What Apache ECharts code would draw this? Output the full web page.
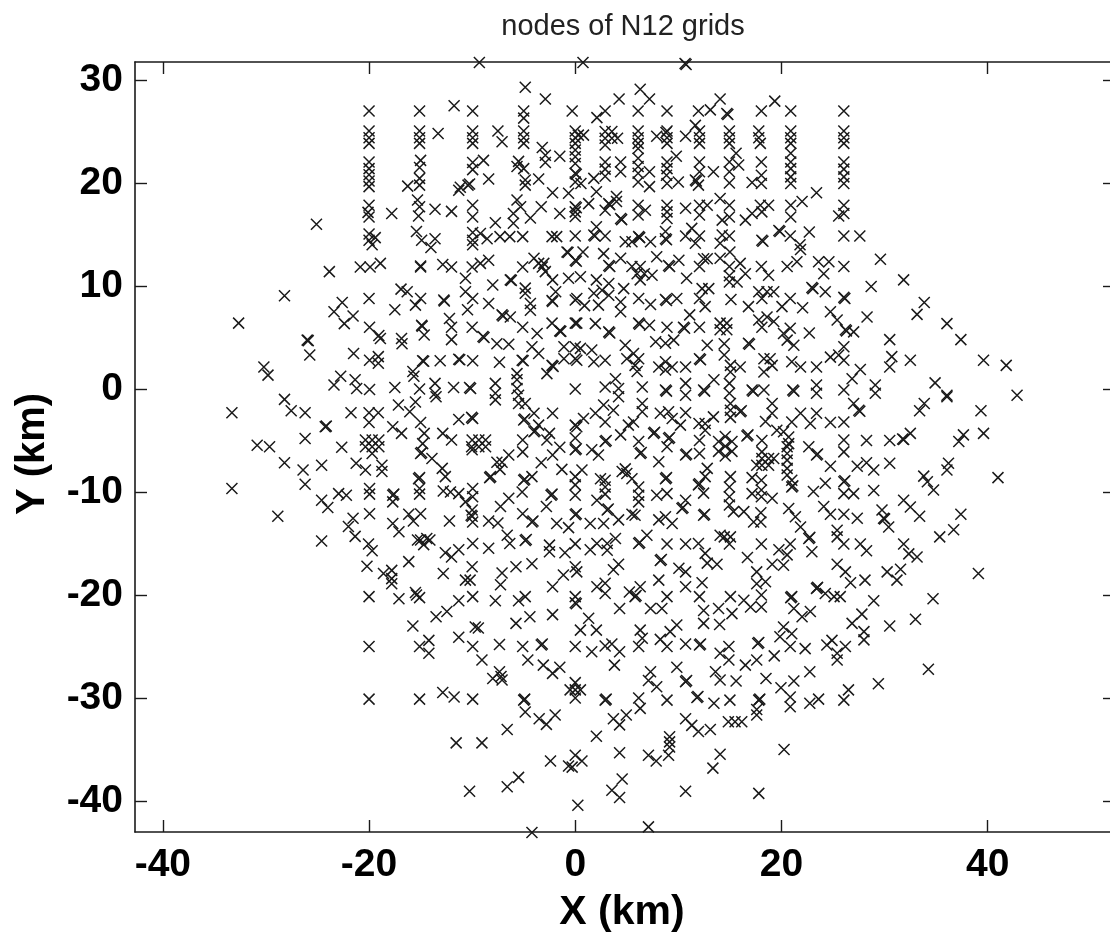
<!DOCTYPE html>
<html><head><meta charset="utf-8">
<style>html,body{margin:0;padding:0;background:#fff;overflow:hidden}#c{width:1110px;height:940px}</style>
<script src="https://cdn.jsdelivr.net/npm/echarts@6/dist/echarts.min.js"></script></head>
<body><div id="c"></div>
<script>
const xTicks=[-40,-20,0,20,40];
const yTicks=[-40,-30,-20,-10,0,10,20,30];
const nodesNW=[[-9.3,31.7],[-4.85,29.3],[-2.9,28.15],[-11.75,27.5],[-20,27],[-15.1,27],[-9.95,27],[-5,27],[-0.3,27],[-5,26.3],
[-20,25.05],[-20,24.4],[-20,23.85],[-15.1,25.05],[-15.1,24.4],[-15.1,23.85],[-9.95,25.05],[-9.95,24.4],[-9.95,23.85],[-5,25.05],[-5,24.4],[-5,23.85],[-13.3,24.8],[-7.5,25.05],[-7.1,24],
[-20,22.05],[-20,21.4],[-20,20.8],[-20,20.2],[-20,19.65],[-15,22.2],[-15.1,21.5],[-15.1,20.45],[-15.1,19.8],[-16.25,19.7],[-9.95,22],[-9.95,21.3],[-8.9,22.2],[-8.4,20.4],[-10.4,19.8],[-10.25,19.9],[-11.15,19.6],[-11.3,19.3],
[-5.5,22.1],[-5.65,21.6],[-5,21.4],[-4.85,20.3],[-4.85,19.8],[-3.55,20.4],[-3.2,23.45],[-2.9,22.7],[-2.9,22],[-1.5,22.6],
[-20,17.85],[-20.1,17.15],[-20,16.7],[-17.8,17.05],[-15.3,18.35],[-15.1,17.7],[-15.2,16.8],[-13.6,17.45],[-12,17.25],[-9.95,17.85],[-9.95,16.7],[-3.3,17.7],[-1.5,17.05],[-5.65,18.35],[-6,17.05],[-5.3,17.7],[-4.35,16.6],[-7.75,16.15],[-6,16.1],[-2.2,19.05],[-0.65,19],[-25.1,16],
[-20,15.05],[-19.4,14.7],[-19.7,14],[-20,14.45],[-15.4,15.3],[-14.9,14.45],[-13.6,14.6],[-14,13.75],[-9.95,15.2],[-9.95,14.45],[-9.95,14],[-9.2,15.1],[-8.55,14.6],[-7.3,14.8],[-6.35,14.8],[-5.1,14.8],[-2.25,14.8],[-1.8,14.8],
[-23.85,11.4],[-20.85,11.85],[-19.9,11.85],[-18.9,12.2],[-15,11.95],[-15,11.85],[-12.85,12.1],[-12,11.85],[-10,11.85],[-9.2,12.2],[-8.4,12.5],[-5.1,11.85],[-4,12.7],[-3.2,11.85],[-2.9,11.4],[-3.55,12.2],[-3.05,12.2],[-2.2,10.6],[-0.8,13.3],[-0.7,13.25],[-0.65,10.75],
[-10.65,10.75],[-10.65,9.45],[-8,10.1],[-6.3,10.6],[-6.2,10.55],[-4.85,9.8],[-4.85,9.3],[-4.35,8.3],[-4.35,7.65],[-28.2,9.05],[-20,8.8],[-16.9,9.7],[-16.3,9.45],[-15,8.8],[-15.5,8.15],[-12.75,8.65],[-12.7,8.55],[-9.95,8.8],[-10.45,7.7],[-8.4,8.3],[-7.1,7.2],[-7,7.1],[-6.3,7],[-5.1,6],[-2.25,8.6],[-2.2,8.5],[-1.9,9.45],
[-22.6,8.4],[-23.4,7.5],[-21.55,7.1],[-22.4,6.35],[-32.65,6.4],[-17.5,7.7],[-12.2,6.85],[-12,6],[-12,4.8],[-14.9,6.2],[-14.85,6.1],[-14.65,5.25],[-19.95,6],[-18.9,4.9],[-19.05,5.2],[-16.8,4.4],[-16.85,4.9],[-26,4.75],[-25.9,4.7],[-25.75,3.3],[-10,6],[-8.95,5.1],[-8.85,5],[-7.6,4.4],[-6.45,4.35],[-3.7,5.4],[-4.2,4.1],[-3.55,3.45],[-1.5,5.65],[-1.4,5.6],[-2.25,6.4],[-1.1,4.1],[-1.1,2.95],
[-21.5,3.45],[-19.95,2.8],[-19.1,2.5],[-19.1,3.15],[-14.8,2.75],[-14.7,2.7],[-13.1,2.75],[-11.3,2.9],[-11.2,2.85],[-9.95,2.75],[-7.35,2.6],[-5.15,2.8],[-5.05,2.75],[-2.25,2.3],[-2.15,2.2],[-5.65,1.5],[-5.65,0.9],
[-30.2,2.15],[-29.8,1.35],[-22.75,1.25],[-23.4,0.4],[-21.35,0.9],[-21.2,0.05],[-19.95,-0.05],[-17.5,0.15],[-15.75,1.7],[-15.65,1.25],[-15.1,0],[-13.6,0.55],[-13.6,-0.4],[-11.8,0.15],[-10.25,0.15],[-10.15,0.05],[-7.75,0.55],[-7.75,-0.4],[-5.65,0.05],[-2.75,1.5]];
const nodesSW=[[-28.2,-1],[-27.55,-2.1],[-26.2,-2.3],[-33.3,-2.3],[-24.25,-3.65],[-24.15,-3.6],[-21.75,-2.3],[-20,-2.3],[-19.1,-2.3],[-20,-3.25],[-17.15,-1.55],[-16.05,-2.2],[-15,-3.25],[-15.5,-1.25],[-13.5,-0.75],[-17.7,-3.65],[-16.85,-4.3],[-11.3,-2.95],[-9.95,-2.85],[-10.05,-2.75],[-7.75,-1.05],[-5.5,-0.6],[-5.5,-1.4],[-4.85,-1.4],[-5,-3],[-4.9,-2.9],[-4,-2.35],[-2.2,-2.35],[-4,-4.15],[-3.9,-4.05],[-3.55,-3.5],[-2.5,-4.3],
[-26.2,-4.8],[-30.85,-5.45],[-29.65,-5.6],[-22.65,-5.65],[-20.35,-4.95],[-19.7,-4.95],[-19.05,-4.95],[-20.35,-5.6],[-19.7,-5.6],[-19.05,-5.6],[-19.7,-6.25],[-14.65,-4.3],[-14.8,-5.3],[-15,-6.25],[-14.9,-6.15],[-12.85,-4.3],[-12,-4.95],[-10,-4.95],[-10,-5.9],[-9.35,-4.95],[-8.7,-4.95],[-9.35,-5.6],[-8.7,-5.6],[-10.05,-5.6],
[-5.1,-4.95],[-5.1,-6.1],[-6.45,-6.4],[-2.75,-4.95],[-1.5,-5.65],[-2.2,-6.4],[-3.3,-7.15],[-28.2,-7.15],[-26.4,-7.85],[-24.6,-7.4],[-26.2,-9.25],[-33.3,-9.65],[-21.25,-7.2],[-20.35,-7.85],[-18.75,-7.4],[-18.75,-8],[-13.9,-6.75],[-12.9,-7.7],[-12.6,-8.5],[-15.2,-8.7],[-15.1,-8.6],[-8.3,-8.6],[-8.2,-8.5],[-7.6,-7.1],[-7.1,-7.1],[-7.3,-7.8],[-5,-8.85],[-4.9,-8.75],[-4.2,-8.5],[-1.3,-7.8],
[-19.95,-9.65],[-19.95,-10.2],[-22.95,-10.15],[-22.2,-10.3],[-24.6,-10.8],[-24,-11.5],[-17.7,-10.3],[-17.6,-10.2],[-17.7,-10.95],[-15.1,-9.65],[-15.1,-10.2],[-12.8,-9.9],[-12.1,-10],[-11.3,-10.15],[-9.95,-9.65],[-9.95,-10.45],[-10,-11.75],[-10,-12.35],[-10.1,-12.25],[-9.95,-12.9],[-10.65,-10.95],[-6.45,-10.6],[-7.25,-11.4],[-5.15,-10],[-2.35,-10.3],[-2.25,-10.2],[-2.8,-11.4],
[-28.85,-12.35],[-21.55,-12.55],[-22,-13.35],[-21.35,-14.3],[-19.95,-12.1],[-17.7,-13.05],[-17.1,-13.85],[-16.15,-12.15],[-15,-12.1],[-15.7,-12.8],[-12.2,-12.8],[-8.4,-12.8],[-7.5,-13],[-5.1,-12.1],[-4.2,-12.9],[-4.1,-12.8],[-1.8,-13.05],[-0.65,-13.45],
[-24.6,-14.75],[-20.05,-15.05],[-19.7,-15.7],[-15,-14.65],[-14.4,-14.5],[-14.7,-15.1],[-15.3,-14.65],[-14.1,-14.65],[-9.95,-15],[-8.4,-15.45],[-12.6,-15.9],[-12,-16.3],[-11.3,-15.6],[-6.6,-14.2],[-6.35,-15],[-4.85,-14.7],[-4.75,-14.6],[-2.5,-15.15],[-2.5,-15.8],[-1,-15.9],
[-20.2,-17.2],[-16.15,-16.75],[-18.6,-17.9],[-17.8,-17.6],[-17.8,-18.4],[-17.8,-18.9],[-12.8,-17.9],[-10,-17.25],[-10.2,-18.55],[-10.65,-18.55],[-7.1,-17.85],[-7.25,-19],[-5.75,-17.25],[-4.2,-16.95],[-1.15,-18.05],[-2.2,-19.2],
[-20,-20.15],[-17.1,-20.35],[-15.5,-19.75],[-15.1,-20.25],[-15.4,-20],[-11.3,-20.55],[-9.95,-20.15],[-7.75,-20.55],[-5.5,-20.55],[-4.85,-20.15],[-13.5,-22.1],[-12.45,-21.6],[-15.75,-23],[-9.7,-23.1],[-9.4,-23.2],[-5.75,-22.75],[-4.4,-22.1],[-2.2,-21.9],
[-11.3,-24.1],[-9.95,-25],[-7.35,-24.8],[-5.1,-25],[-3.3,-24.85],[-3.2,-24.75],[-20,-25],[-15.1,-25],[-14.2,-24.4],[-14.2,-25.65],[-9.05,-26.3],[-4.6,-26.3],[-3.1,-26.8],[-1.5,-27],[-2.2,-27.6],[-7.35,-27.45],[-8,-28.1],[-7.1,-28.25],[-7.2,-27.9],
[-20,-30.1],[-15.1,-30.1],[-12.85,-29.45],[-11.75,-29.9],[-9.95,-30.1],[-5,-30.2],[-4.9,-30.1],[-4.85,-31.35],[-3.5,-32],[-2.8,-32.55],[-1.95,-31.65],[-6.6,-33.05],
[-11.55,-34.35],[-9.05,-34.35],[-2.4,-36.1],[-0.65,-36.6],[-5.5,-37.7],[-6.6,-38.6],[-10.25,-39.05],[-4.2,-43.05]];
const nodesColumn=[[0,25.05],[0,24.4],[0,23.85],[0,23.2],[0,22.55],[0,21.9],[0,20.95],[0.1,20.85],[0,20.1],[0,17.7],[0.1,17.6],[0,16.75],[0,14.85],[0,12.5],[0.1,12.4],[0,8.65],[0,6.4],[0,4.1],[0,2.95],[0,0],[0,-3.5],[0,-4.75],[0,-5.9],[0.1,-5.8],[0,-8.5],[0,-9.3],[0,-10.3],[0,-12.2],[0.1,-12.1],[0,-15.03],[0,-17.25],[0,-20.15],[0,-20.75],[0.1,-20.85],[0,-25],[0,-28.5],[-0.5,-29.2],[0,-29.2],[0.5,-29.2],[0,-30],[0,-35.55]];
const nodesNE=[[0.75,31.7],[10.65,31.6],[10.75,31.5],[6.3,29.1],[7.2,28.15],[4.25,28.15],[14.05,28.15],[19.35,27.95],[2.1,26.35],[2.9,27],[6.1,27],[8.9,27],[11.95,27],[13.1,27.1],[14.7,26.75],[14.8,26.65],[18.05,27],[20.9,27],[26.05,27],
[0.3,24.65],[0.8,24.65],[2.9,25],[3.55,25],[2.9,24.35],[3.55,24.35],[4.1,24.35],[2.9,23.7],[6.1,25.05],[6.1,24.4],[6.1,23.85],[6.1,23.35],[8.9,25.05],[8.8,24.9],[8.9,24.4],[8.9,23.85],[7.9,24.55],[10.7,24.55],[12.05,25.05],[12.05,24.4],[12.05,23.85],[11.65,25.6],[14.95,25.05],[14.95,24.4],[14.95,23.85],[17.8,25.05],[17.8,24.4],[17.95,23.85],[20.9,25.05],[20.9,24.4],[20.9,23.85],[26.05,25.05],[26.05,24.4],[26.05,23.85],
[2.9,22.05],[2.9,21.35],[2.9,20.65],[4.4,22.05],[4.4,21.1],[1.8,20.45],[0.55,19.95],[6.1,22.4],[6.1,21.6],[6.1,20.95],[6.1,20.1],[7.2,21.1],[7.2,19.65],[8.9,22.05],[8.9,21.4],[8.85,20.75],[8.9,19.95],[9.8,22.6],[10,20.1],[11.65,20.3],[11.75,20.2],[12.05,22.05],[12.05,21.1],[11.95,19.8],[13.4,21.1],[14.95,22.05],[14.95,21.1],[14.95,20],[15.6,22.9],[15.85,21.75],[17.15,20.05],[18.05,22.05],[18.05,20.75],[18.05,19.95],[20.9,22.9],[20.9,22.05],[20.9,21.4],[20.9,20.6],[20.9,19.95],[26.05,22.05],[26.05,21.35],[26.05,20.6],[26.05,19.95],[23.4,19.05],
[2.05,19.15],[4,18.7],[4,18.2],[0,17.2],[1.3,18],[3.25,18],[3.35,17.9],[2.9,17.35],[4.4,16.55],[4.5,16.45],[6.1,17.85],[6.1,16.9],[6.8,17.35],[8.9,17.85],[8.9,17.2],[8.9,16.55],[10.7,17.55],[12.05,17.85],[12.05,16.9],[12.8,17.85],[14.05,18.5],[14.95,17.85],[14.95,16.7],[16.5,16.4],[17.15,17.05],[18.1,17.2],[17.95,17.85],[18.75,17.85],[20.9,17.85],[20.9,16.7],[22,18.2],[26.05,17.85],[25.55,16.8],[26.05,17.05],
[1.8,14.95],[1.9,14.85],[2.05,15.75],[2.9,14.85],[4.85,14.3],[6.15,14.8],[6.25,14.7],[5.5,14.3],[7.3,14.3],[8.75,15.3],[8.75,14.6],[8.85,14.5],[10.7,14.85],[11.3,15.6],[12.05,14.85],[11.65,14.15],[14.25,16.4],[14.25,14.95],[14.95,14.85],[14.05,14.15],[18.1,14.45],[18.2,14.35],[19.75,15.4],[19.85,15.3],[20.85,14.85],[22.7,15.25],[21.8,14],[26.05,14.85],[27.6,14.85],
[0.75,13.3],[2.75,13.15],[3.25,12],[3.35,11.9],[4.4,12.7],[5.5,11.9],[6.3,11.9],[6,11.2],[6.7,11.2],[6.3,10.6],[7.45,11.05],[7.9,12.85],[9.05,12],[9.15,11.9],[10.05,12.5],[10.8,10.75],[12.05,11.9],[12.45,12.65],[12.8,12.65],[14.05,12.7],[15,13.3],[16,12.2],[14.95,11.9],[14.95,11],[14.95,10.4],[15.7,10.4],[16.5,11.2],[18.05,11.9],[18.75,11.05],[20.55,11.9],[21.5,12.35],[21.85,13.55],[23.6,12.35],[24.6,12.35],[24.1,11.2],[26.05,11.9],[29.6,12.6],
[0.5,10.9],[2.05,10.6],[3.25,10.25],[2.6,9.6],[1.8,9.3],[3.25,9.1],[2.25,8.15],[4.7,9.75],[6.15,8.8],[7.3,8.2],[4.4,8.45],[4.4,7.5],[0.15,8.8],[0.9,8.1],[8.75,8.7],[8.85,8.6],[9.85,8.8],[12.3,9.75],[12.95,9.75],[12.05,8.8],[12.6,8],[15.1,8.7],[16.8,8],[17.8,9.45],[18.6,9.45],[19.25,9.45],[18.1,8.8],[20.05,8],[20.85,8.8],[22.05,7.9],[22.95,9.85],[23.05,9.75],[24.25,9.45],[26.05,8.9],[26.15,8.8],[28.7,9.95],[31.85,10.6],[33.85,8.4],[33.15,7.25],[28.3,7],[24.75,7.5],[25.4,6.7],[26.2,5.75],[26.3,5.65],[27,5.55],
[36.05,6.35],[37.4,4.8],[30.5,4.8],[22.7,5.45],[39.6,2.8],[41.8,2.3],[32.5,2.8],[30.7,3.15],[30.5,2.15],[27.65,1.9],[26.85,1],[29.1,0.4],[29.1,-0.4],[23.4,0.4],[23.4,-0.4],[26.05,-0.1],[34.9,0.6],[36.05,-0.6],[42.85,-0.6],
[26.05,4.1],[26.05,2.8],[24.75,3.1],[25.55,3.3],[21.2,4.25],[20.85,5.9],[20.2,5.4],[20.55,4.75],[18.1,6],[18.6,7],[19.25,6.55],[17.8,6.7],[14.05,6.4],[14.7,6.4],[14.05,5.75],[14.7,5.75],[11.1,7.2],[10.5,6],[10.6,5.9],[12.05,6],[8.9,6],[6.15,6.4],[6.25,6.3],[7.2,6.2],[3.25,5.55],[3.35,5.45],[1.95,6.35],[0.15,6.4],[4.85,4.25],[7.8,4.6],[8.75,4.45],[9.55,4.75],[12.8,4.25],[14.45,4.4],[14.45,3.3],[16.8,4.45],[16.9,4.35],[0.5,3.95],[1.6,3.8],[0.15,2.8],[1.8,2.65],[2.9,2.8],[5.65,3.45],[5,2.95],[6.15,2.95],[5.8,2.3],[8.1,2.15],[8.75,2.65],[8.75,1.85],[9.4,2.15],[10.7,2.15],[12.05,2.95],[12.15,2.85],[16,2.15],[15.05,2.3],[15.05,1.65],[18.3,2.95],[18.9,2.95],[19.1,2.3],[18.3,1.65],[21,2.65],[21.85,2.15],[23.4,2.15],
[2.9,0.2],[3.9,1],[4.2,0.05],[6,1.7],[6.5,0.2],[8.75,-0.1],[8.85,-0.2],[10.7,0.55],[10.7,-0.6],[12.45,-0.1],[12.55,-0.2],[13.45,0.9],[14.95,0.55],[14.95,-0.4],[17.15,-0.1],[17.25,-0.2],[18.3,-0.1],[21.1,-0.1],[21.2,-0.2]];
const nodesSE=[[36.05,-0.75],[33.85,-1.4],[33.4,-2.1],[39.35,-2.1],[27.5,-2.05],[27.6,-2.15],[27,-1.4],[39.6,-4.3],[37.65,-4.45],[37.2,-5.1],[32.5,-4.3],[31.85,-4.9],[31.75,-4.85],[30.5,-5],[28.25,-5],[26.05,-4.95],[26.05,-6.1],[26.05,-3.2],[24.75,-3.25],[23.4,-2.35],[21.85,-2.35],[22.8,-3.35],[21,-3.2],[20.2,-4.15],[20.7,-4.65],[20.7,-5.3],[19.1,-1.4],[19.1,-2.35],[18.45,-3.15],[19.55,-4],[16,-2.2],[16.1,-2.1],[15.05,-1.4],[15.05,-2.05],[15.05,-2.75],[16.65,-4.55],[16.75,-4.45],[18.1,-5],[18.1,-6.1],[13.4,-2.7],[12,-3.35],[12.6,-3.35],[12.6,-4],[10.7,-2.3],[10.2,-3.5],[9.05,-2.2],[8.25,-2.35],[9.4,-2.85],[9.05,-4.8],[9.15,-4.7],[7.6,-4.3],[7.7,-4.2],[6.15,-5.1],[5.65,-3.2],[5.15,-3.5],[4.4,-4.45],[2.9,-5.1],[3,-5],[1.6,-5.9],[2.25,-6.4],[2.9,-3.2],[3.7,-2.05],[2.75,-1.55],[1.95,-2.35],[0.8,-2.85],[0.15,-3.65],[4.2,-0.75],[6.5,-1.4],[6.5,-2.2],
[6.3,-6.25],[6.4,-6.15],[8.1,-7.05],[8.9,-5.6],[10.7,-6.4],[10.8,-6.3],[12.05,-5],[12.05,-6.25],[12.8,-7.7],[13.9,-5.1],[13.9,-6.05],[14.55,-4.6],[14.55,-5.55],[14.55,-6.5],[15.2,-5.1],[15.2,-6.05],[18.1,-6.75],[18.75,-6.75],[18.1,-7.4],[18.75,-7.4],[19.25,-6.75],[17.6,-7.4],[20.55,-5.6],[20.55,-6.25],[20.55,-6.9],[20.55,-7.7],[20.55,-8.35],[22.65,-5.6],[23.4,-6.4],[23.5,-6.3],[24.75,-7.5],[27.35,-7.5],[28.25,-7.15],[28.95,-7.85],[30.5,-7.2],[36.2,-7.2],[36.05,-7.85],[33.8,-8.45],[34.15,-9],[34.75,-9.8],[41,-8.6],[28.95,-9.85],[24.25,-9.15],[26.05,-9],[26.15,-8.9],[23.1,-9.95],[26.05,-10.15],[27,-10.15],
[0.65,-7.85],[2.9,-8.85],[2.9,-9.5],[2.9,-10.2],[2.1,-10.8],[2.45,-8.7],[4.55,-8],[5,-8.2],[4.85,-7.75],[5.5,-8.7],[6.15,-9.5],[6.15,-10.3],[6.15,-10.95],[5.8,-12.25],[8.75,-8.7],[8.85,-8.6],[8.9,-10.15],[7.9,-10.3],[10.7,-10.8],[10.35,-11.6],[10.45,-11.5],[8.75,-12.4],[8.1,-12.7],[9.4,-13.05],[11.95,-9.3],[12.05,-9.2],[12.6,-8.5],[12.45,-10.1],[15.05,-8.5],[14.95,-9.5],[14.95,-10.45],[14.95,-11.25],[15.35,-11.9],[17.15,-8.6],[18.05,-8.85],[18.05,-9.8],[18.05,-10.45],[19.1,-10.6],[17.15,-10.15],[21,-8.85],[21,-9.5],[21.1,-9.4],[12.45,-12.25],[12.55,-12.15],[16.35,-11.9],[18,-12],[17.3,-12.9],[18,-12.9],[20.7,-11.6],[21.35,-12.4],[21.85,-13.4],[24.1,-11.4],[24.75,-12.15],[26.05,-12.15],[27.35,-12.55],[29.75,-11.75],[29.9,-12.55],[30,-12.6],[30.4,-13.4],[31.85,-10.8],[32.5,-11.45],[33.4,-12.35],[37.4,-12.15],[36.7,-13.65],[35.35,-14.35],[3.1,-11.75],[3.2,-11.65],[1.45,-13.05],[2.75,-13.05],[4.2,-12.7],[5.5,-12.15],
[25.4,-13.7],[25.4,-14.35],[26.05,-15.05],[22.65,-14.5],[22.75,-14.4],[22.95,-15.8],[27.65,-15.05],[28.25,-15.7],[31.85,-15.05],[32.35,-16],[33.15,-16.3],[1.45,-15.6],[2.1,-15],[3.1,-15],[3.1,-15.65],[3.9,-14.5],[6.15,-15],[6.25,-14.9],[6.95,-14.2],[8.9,-15.05],[10.7,-15.05],[11.95,-15],[12.6,-15.95],[12.8,-16.9],[13.75,-17],[14.45,-14.35],[15.05,-14.35],[14.05,-14.2],[14.95,-15.05],[18.05,-15.05],[19.75,-15.6],[20.85,-15.05],[20.55,-16.1],[19.1,-17],[20.2,-17.1],[16.7,-16.35],[8.25,-16.65],[8.35,-16.55],
[0.15,-17.75],[3.7,-17.55],[4.2,-17],[10.05,-17.4],[10.7,-17.75],[8.1,-18.55],[12.3,-18.8],[10.7,-19.2],[25.4,-17],[26.2,-17.75],[26.7,-18.8],[28.1,-18.55],[30.25,-17.75],[31.55,-17.5],[31.2,-18.55],[39.1,-17.9],[17.6,-17.75],[18.45,-18.7],[17.6,-18.9],
[2.1,-19.2],[2.9,-19.85],[2.9,-18.85],[5.25,-19.7],[5.8,-20.15],[5.9,-20.05],[6.3,-19.2],[4.3,-21.3],[7.3,-21.3],[8.4,-21.3],[8.9,-20.15],[12.05,-20.15],[12.45,-21.5],[12.45,-22.75],[13.9,-21.3],[15.2,-21.8],[14,-22.85],[15.05,-20.15],[16.35,-20.5],[17,-21.15],[18.05,-20],[18.05,-21.15],[20.9,-20.25],[21,-20.15],[21.2,-21.3],[22,-22.1],[22.8,-21.6],[23.4,-19.35],[23.5,-19.25],[24.25,-19.85],[25.7,-20.15],[25.1,-20.15],[28.95,-20.55],[27.8,-21.85],[26.85,-22.75],[28,-23.55],[28,-24.35],[34.7,-20.35],[33,-22.35],[30.5,-23],
[1.3,-22.25],[0.5,-23.4],[2.05,-23.4],[6.3,-23.4],[6.5,-24.2],[6.15,-25],[9.85,-22.9],[9.2,-23.55],[8.25,-24.3],[8.9,-25],[10.7,-24.75],[12.05,-24.85],[12.15,-24.75],[1.6,-25.5],[2.9,-24.95],[3.55,-24.75],[4.3,-25.5],[3.8,-26.8],[14.9,-25],[14.05,-25.65],[14.9,-26.3],[16.5,-26.8],[17.6,-26.3],[19.3,-25.9],[17.7,-24.7],[17.8,-24.6],[20.2,-23.1],[19.85,-24.05],[21,-23.75],[20.85,-25],[22.3,-25.2],[24.9,-24.4],[24.4,-24.85],[26.2,-25],[25.4,-25.65],[25.4,-26.3],[34.25,-27.2],[29.4,-28.6],[22.75,-27.45],[21.2,-28.35],[19.95,-29],[18.5,-28.1],[20.85,-29.9],[20.85,-30.85],[22.75,-30.5],[23.6,-30.1],[26.5,-29.2],[26.05,-30.2],[17.8,-30.2],[17.9,-30.1],[17.6,-31.65],[17.6,-31.1],[15.5,-32.3],[14.85,-32.3],[16.15,-32.3],[15,-30.2],[13.45,-30.5],[11.8,-29.95],[11.9,-29.85],[10.7,-28.4],[10.8,-28.3],[9.85,-27],[7.3,-27.45],[7.1,-28.3],[7.9,-28.9],[8.9,-30.2],[13.6,-27.45],[14.05,-28.25],[15.6,-28.35],[6.15,-30],[6.3,-31],[2.9,-30.2],[3,-30.1],[3.7,-32],[4.3,-32.6],[4.95,-31.65],[10.7,-32],[11.3,-32.65],[11.95,-33.25],[13.1,-33.05],
[2.05,-33.7],[9.15,-33.75],[9.15,-34.25],[9.15,-34.75],[9.05,-35.55],[4.3,-35.3],[0.65,-36.1],[-0.3,-36.7],[7.1,-35.55],[7.85,-36.1],[14.05,-35.45],[13.35,-36.8],[20.25,-35],[4.55,-37.85],[3.55,-38.95],[4.3,-39.65],[10.7,-39.05],[17.8,-39.25],[0.25,-40.4],[7.1,-42.5]];
const nodes=[...nodesNW,...nodesSW,...nodesColumn,...nodesNE,...nodesSE];

const chart=echarts.init(document.getElementById('c'),null,{renderer:'canvas'});
const ink='#1a1a1a';
const font='"Liberation Sans",Arial,sans-serif';
const xRange={min:-42.7,max:52.35},yRange={min:-43,max:31.75};
const line={show:true,onZero:false,lineStyle:{color:ink,width:1.6}};
const tick={show:true,inside:true,length:12,lineStyle:{color:ink,width:1.4}};
chart.setOption({
 animation:false,backgroundColor:'#fff',
 title:{text:'nodes of N12 grids',left:618,top:7,textAlign:'center',textStyle:{fontFamily:font,fontWeight:'normal',fontSize:29,color:'#222'}},
 grid:{left:135,top:62,width:980,height:770,containLabel:false,outerBoundsMode:'none'},
 xAxis:[
  {type:'value',position:'bottom',...xRange,axisLine:line,axisTick:{...tick,customValues:xTicks},splitLine:{show:false},
   axisLabel:{customValues:xTicks,margin:14,fontFamily:font,fontWeight:'bold',fontSize:39,color:'#000'},
   name:'X (km)',nameLocation:'middle',nameGap:60,nameTextStyle:{fontFamily:font,fontWeight:'bold',fontSize:41,color:'#000',padding:[0,6,0,0]}},
  {type:'value',position:'top',...xRange,axisLine:line,axisTick:{...tick,customValues:xTicks},splitLine:{show:false},axisLabel:{show:false}}],
 yAxis:[
  {type:'value',position:'left',...yRange,axisLine:line,axisTick:{...tick,customValues:yTicks},splitLine:{show:false},
   axisLabel:{customValues:yTicks,margin:12,fontFamily:font,fontWeight:'bold',fontSize:39,color:'#000'},
   name:'Y (km)',nameLocation:'middle',nameGap:82,nameTextStyle:{fontFamily:font,fontWeight:'bold',fontSize:40,color:'#000',padding:[0,14,0,0]}},
  {type:'value',position:'right',...yRange,axisLine:line,axisTick:{...tick,customValues:yTicks},splitLine:{show:false},axisLabel:{show:false}}],
 series:[{type:'scatter',data:nodes,clip:false,symbol:'path://M0,0L10,10M10,0L0,10',symbolSize:11,silent:true,
   itemStyle:{color:'none',borderColor:ink,borderWidth:1.5,opacity:1}}]
});
</script></body></html>
